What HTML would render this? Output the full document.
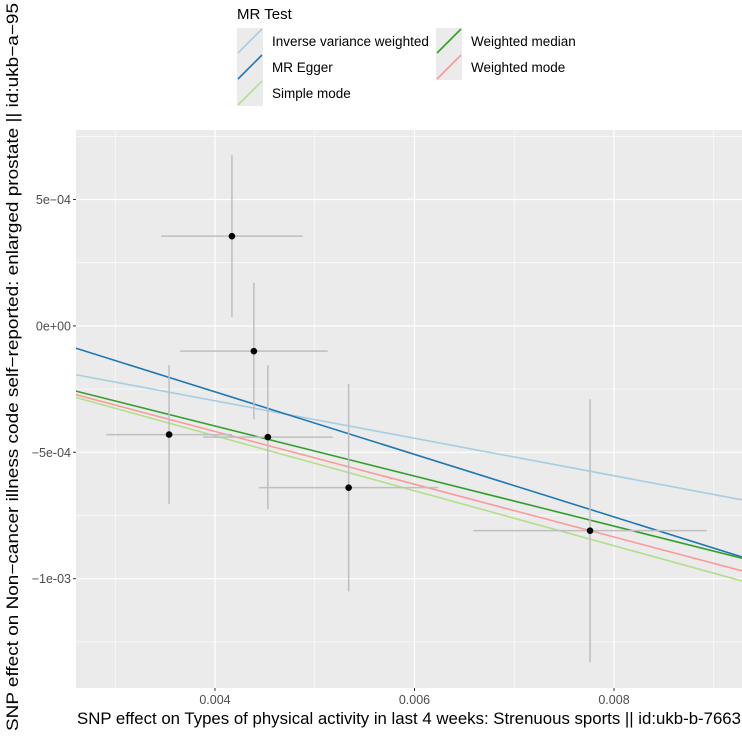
<!DOCTYPE html>
<html><head><meta charset="utf-8"><style>
body{margin:0;background:#fff;}
svg text{font-family:"Liberation Sans",sans-serif;}
</style></head><body>
<svg id="chart" width="742" height="734" xmlns="http://www.w3.org/2000/svg">
<rect x="76" y="130" width="666" height="558" fill="#ebebeb"/>
<g id="grid"></g>
<g id="lines"></g>
<g id="points"></g>
<g id="axes"></g>
<g>
<text x="237" y="19" font-size="15" fill="#000">MR Test</text>
<g id="legend"></g>
</g>
<text x="409" y="724" font-size="16.5" text-anchor="middle" textLength="664" lengthAdjust="spacingAndGlyphs" fill="#000">SNP effect on Types of physical activity in last 4 weeks: Strenuous sports || id:ukb-b-7663</text>
<text transform="translate(18,367) rotate(-90)" font-size="16.5" text-anchor="middle" textLength="728" lengthAdjust="spacingAndGlyphs" fill="#000">SNP effect on Non−cancer illness code  self−reported: enlarged prostate || id:ukb−a−95</text>
</svg>
<script>
const pointX=[0.00417,0.00439,0.00453,0.00354,0.00534,0.00776];
const pointY=[3.55e-4,-1.0e-4,-4.4e-4,-4.3e-4,-6.4e-4,-8.1e-4];
const pointXse=[0.00071,0.00074,0.00065,0.00063,0.0009,0.00117];
const pointYse=[3.2e-4,2.7e-4,2.85e-4,2.75e-4,4.1e-4,5.2e-4];
const methods=["Inverse variance weighted","MR Egger","Simple mode","Weighted median","Weighted mode"];
const slopes=[-0.0741,-0.1237,-0.1087,-0.099,-0.1044];
const intercepts=[0,2.34e-4,0,0,0];
const colors=["#a6cee3","#1f78b4","#b2df8a","#33a02c","#fb9a99"];
const xTicks=[0.004,0.006,0.008];
const xTickLabels=["0.004","0.006","0.008"];
const yTicks=[5e-4,0,-5e-4,-1e-3];
const yTickLabels=["5e-04","0e+00","-5e-04","-1e-03"];
const xMinor=[0.003,0.005,0.007,0.009];
const yMinor=[7.5e-4,2.5e-4,-2.5e-4,-7.5e-4,-1.25e-3];

const X0=76,X1=742,Y0=130,Y1=688;
const xDom=[0.002607,0.009283],yDom=[-1.4325e-3,7.75e-4];
const sx=v=>X0+(v-xDom[0])/(xDom[1]-xDom[0])*(X1-X0);
const sy=v=>Y1-(v-yDom[0])/(yDom[1]-yDom[0])*(Y1-Y0);
const NS="http://www.w3.org/2000/svg";
function mk(tag,attrs,parent){const e=document.createElementNS(NS,tag);for(const k in attrs)e.setAttribute(k,attrs[k]);parent.appendChild(e);return e;}
const grid=document.getElementById('grid');
xMinor.forEach(v=>{const l=mk('line',{x1:sx(v),x2:sx(v),y1:Y0,y2:Y1,stroke:'#fff','stroke-width':0.6},grid);

});
yMinor.forEach(v=>{const l=mk('line',{x1:X0,x2:X1,y1:sy(v),y2:sy(v),stroke:'#fff','stroke-width':0.6},grid);

});
const axes=document.getElementById('axes');
xTicks.forEach((v,i)=>{const l=mk('line',{x1:sx(v),x2:sx(v),y1:Y0,y2:Y1,stroke:'#fff','stroke-width':1.2},grid);


const t=mk('line',{x1:sx(v),x2:sx(v),y1:Y1,y2:Y1+3,stroke:'#333','stroke-width':1},axes);


const tx=mk('text',{x:sx(v),y:Y1+16,'font-size':12.5,fill:'#4d4d4d','text-anchor':'middle'},axes);tx.textContent=xTickLabels[i];

});
yTicks.forEach((v,i)=>{const l=mk('line',{x1:X0,x2:X1,y1:sy(v),y2:sy(v),stroke:'#fff','stroke-width':1.2},grid);


const t=mk('line',{x1:X0-3,x2:X0,y1:sy(v),y2:sy(v),stroke:'#333','stroke-width':1},axes);


const tx=mk('text',{x:X0-5,y:sy(v)+4.5,'font-size':12.5,fill:'#4d4d4d','text-anchor':'end'},axes);tx.textContent=yTickLabels[i].replace('-','\u2212');

});
const pts=document.getElementById('points');
pointX.forEach((x,i)=>{const y=pointY[i];
const h=mk('line',{x1:sx(x-pointXse[i]),x2:sx(x+pointXse[i]),y1:sy(y),y2:sy(y),stroke:'#bebebe','stroke-width':1.5},pts);


const v=mk('line',{x1:sx(x),x2:sx(x),y1:sy(y-pointYse[i]),y2:sy(y+pointYse[i]),stroke:'#bebebe','stroke-width':1.5},pts);

});
pointX.forEach((x,i)=>{const c=mk('circle',{cx:sx(x),cy:sy(pointY[i]),r:3.3,fill:'#000'},pts);

});
const lines=document.getElementById('lines');
const lg=document.getElementById('legend');
const legPos=[[237,28],[237,54],[237,80],[436,28],[436,54]];
methods.forEach((m,i)=>{const f=x=>intercepts[i]+slopes[i]*x;
const l=mk('line',{x1:X0,x2:X1,y1:sy(f(xDom[0])),y2:sy(f(xDom[1])),stroke:colors[i],'stroke-width':1.6},lines);


const [lx,ly]=legPos[i];
const g=mk('g',{},lg);


mk('rect',{x:lx,y:ly,width:26,height:26,fill:'#ebebeb'},g);
mk('line',{x1:lx+1,y1:ly+25,x2:lx+25,y2:ly+1,stroke:colors[i],'stroke-width':1.6},g);
const t=mk('text',{x:lx+35,y:ly+18,'font-size':13.5,fill:'#000'},g);t.textContent=m;});
</script>
</body></html>
